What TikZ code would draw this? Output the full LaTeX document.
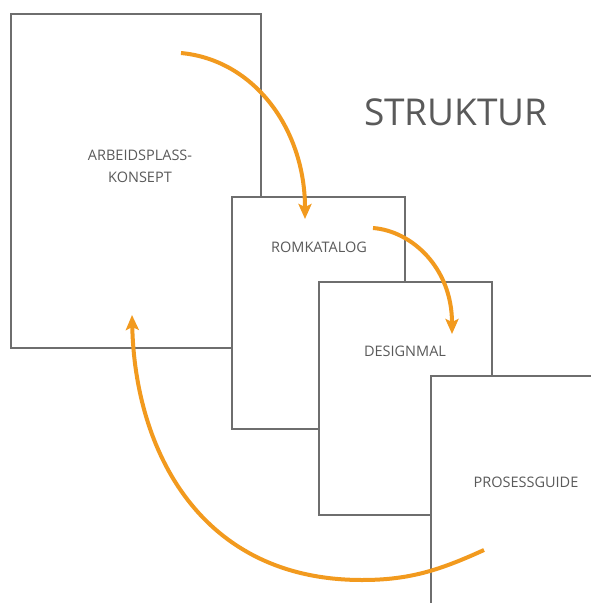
\documentclass[tikz,border=0pt]{standalone}
\usepackage{fontspec}
\setmainfont{Open Sans}
\usetikzlibrary{arrows.meta}
\definecolor{boxline}{HTML}{6E6E6E}
\definecolor{txt}{HTML}{5A5A5A}
\definecolor{arr}{HTML}{F29A1E}
\begin{document}
\begin{tikzpicture}[x=1pt,y=-1pt,
  page/.style={draw=boxline,line width=1.4pt,fill=white,rectangle,inner sep=0pt},
  lbl/.style={text=txt,font=\fontsize{14.5}{22}\selectfont,align=center,inner sep=0pt},
  flow/.style={draw=arr,line width=4pt,-{Stealth[length=15pt,width=13pt,inset=3pt]}}]
\path[use as bounding box,clip] (0,0) rectangle (591,603);
\fill[white] (0,0) rectangle (591,603);
% pages
\node[page,minimum width=250pt,minimum height=334pt] (p1) at (136,181) {};
\node[page,minimum width=173pt,minimum height=232pt] (p2) at (318.5,313) {};
\node[page,minimum width=173pt,minimum height=233pt] (p3) at (405.5,398.5) {};
\node[page,minimum width=200pt,minimum height=260pt] (p4) at (531,506) {};
% labels
\node[lbl] (t1) at (140,166.5) {ARBEIDSPLASS-\\KONSEPT};
\node[lbl] (t2) at (319,247) {ROMKATALOG};
\node[lbl] (t3) at (405,351) {DESIGNMAL};
\node[lbl] (t4) at (526,482) {PROSESSGUIDE};
\node[text=txt,font=\fontsize{37}{40}\selectfont,inner sep=0pt] (title) at (456,112) {STRUKTUR};
% arrow end points
\coordinate (a1s) at (181,53);
\coordinate (a1e) at (305,219);
\coordinate (a2s) at (373,228);
\coordinate (a2e) at (452,334);
\coordinate (a3s) at (484,550);
\coordinate (a3m) at (362,580);
\coordinate (a3e) at (132,315);
% arrows
\draw[flow] (a1s) .. controls (255,60) and (305,130) .. (a1e);
\draw[flow] (a2s) .. controls (412,231) and (452,268) .. (a2e);
\draw[flow] (a3s) .. controls (440,570) and (410,580) .. (a3m)
  .. controls (200,580) and (135,450) .. (a3e);
\end{tikzpicture}
\end{document}
